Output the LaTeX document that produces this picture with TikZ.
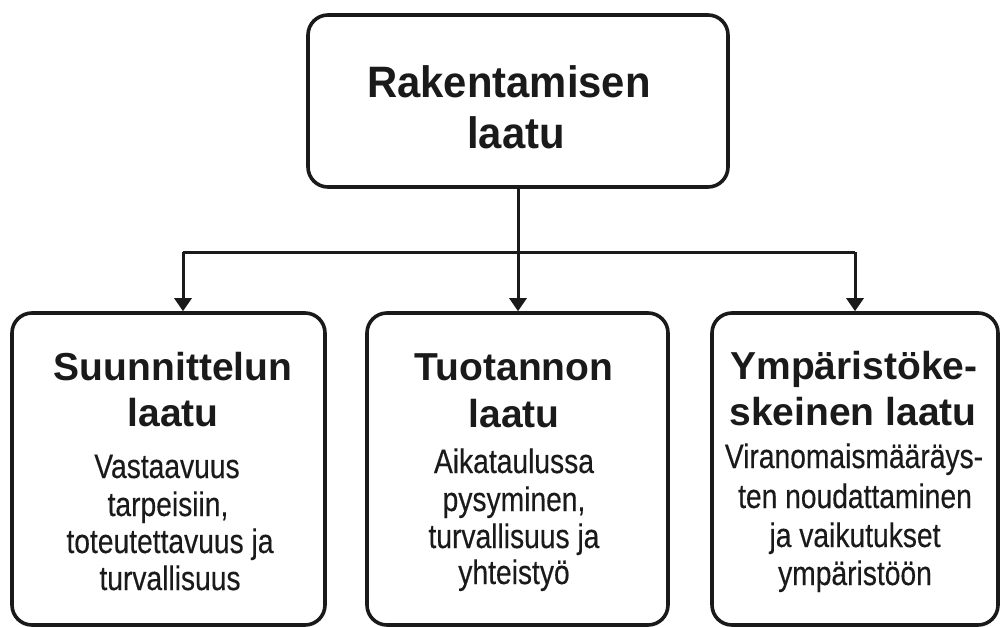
\documentclass[tikz,border=0pt]{standalone}
\usepackage{fontspec}
\setmainfont{Liberation Sans}
\newfontfamily\ttlfont[FakeStretch=0.95]{Liberation Sans}
\newfontfamily\bdfont[FakeStretch=0.83,FakeBold=0.3]{Liberation Sans}
\usetikzlibrary{arrows.meta}
\definecolor{ink}{HTML}{1A1A1A}
\tikzset{
  box/.style={draw=ink, line width=3.6pt, rounded corners=20pt, inner sep=0pt},
  ttl/.style={anchor=base, inner sep=0pt, text=ink, font=\ttlfont\fontsize{44}{50}\selectfont\bfseries},
  hd/.style={anchor=base, inner sep=0pt, text=ink, font=\fontsize{39}{45}\selectfont\bfseries},
  bd/.style={anchor=base, inner sep=0pt, text=ink, font=\bdfont\fontsize{34}{38}\selectfont},
  conn/.style={line width=3pt, draw=ink},
  arr/.style={conn, -{Triangle[width=17pt,length=13pt]}}
}
\begin{document}
\begin{tikzpicture}[x=1pt,y=-1pt]
\useasboundingbox (0,0) rectangle (1000,626);
% boxes
\node[box, minimum width=420pt, minimum height=172pt] (top) at (518,101) {};
\node[box, minimum width=313pt, minimum height=312pt] (b1) at (168.5,469) {};
\node[box, minimum width=301pt, minimum height=312pt] (b2) at (517.5,469) {};
\node[box, minimum width=286pt, minimum height=312pt] (b3) at (855,469) {};
% title
\node[ttl] (t1) at (509,97) {Rakentamisen};
\node[ttl] (t2) at (516,148) {laatu};
% left
\node[hd] (h11) at (173,380) {Suunnittelun};
\node[hd] (h12) at (173,426) {laatu};
\node[bd] (l11) at (167,478) {Vastaavuus};
\node[bd] (l12) at (168,516) {tarpeisiin,};
\node[bd] (l13) at (170,553) {toteutettavuus ja};
\node[bd] (l14) at (170,590) {turvallisuus};
% middle
\node[hd] (h21) at (514,380) {Tuotannon};
\node[hd] (h22) at (514,427) {laatu};
\node[bd] (l21) at (514,473) {Aikataulussa};
\node[bd] (l22) at (514,511) {pysyminen,};
\node[bd] (l23) at (514,548) {turvallisuus ja};
\node[bd] (l24) at (514,584) {yhteistyö};
% right
\node[hd] (h31) at (854,379) {Ympäristöke-};
\node[hd] (h32) at (853,425) {skeinen laatu};
\node[bd] (l31) at (854,468) {Viranomaismääräys-};
\node[bd] (l32) at (855,508) {ten noudattaminen};
\node[bd] (l33) at (855,547) {ja vaikutukset};
\node[bd] (l34) at (855,585) {ympäristöön};
% connectors
\coordinate (j) at (518,252);
\coordinate (jl) at (183,252);
\coordinate (jr) at (855,252);
\draw[conn] (top.south) -- (j);
\draw[conn] (jl) -- (jr);
\draw[arr] (jl) -- (jl |- b1.north);
\draw[arr] (j) -- (j |- b2.north);
\draw[arr] (jr) -- (jr |- b3.north);
\end{tikzpicture}
\end{document}
